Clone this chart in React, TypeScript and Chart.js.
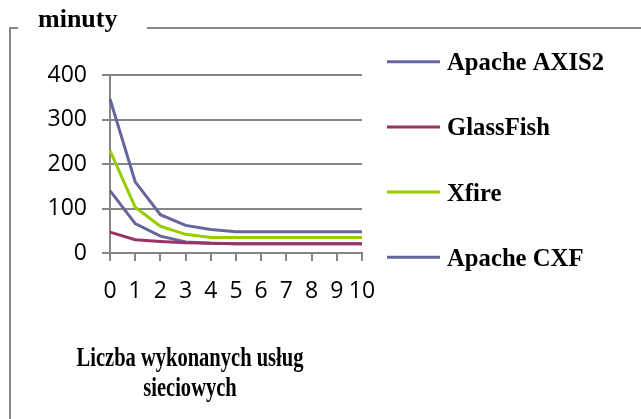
import React, { useEffect, useRef } from "react";
import { Chart, registerables } from "chart.js";
Chart.register(...registerables);

const categories = ["0", "1", "2", "3", "4", "5", "6", "7", "8", "9", "10"];
const axis2Values = [346, 160, 86, 62, 53, 48, 48, 48, 48, 48, 48];
const glassFishValues = [47, 30, 26, 23, 22, 21, 21, 21, 21, 21, 21];
const xfireValues = [230, 103, 60, 42, 35, 35, 35, 35, 35, 35, 35];
const cxfValues = [140, 66, 38, 25, 22, 21, 21, 21, 21, 21, 21];
const seriesNames = ["Apache AXIS2", "GlassFish", "Xfire", "Apache CXF"];
const seriesColors = ["#66669C", "#993366", "#99CC00", "#66669C"];
const yMin = 0;
const yMax = 400;
const yStep = 100;
const yTitle = "minuty";
const xTitleLines = ["Liczba wykonanych usług", "sieciowych"];

const W = 641;
const H = 419;

const decorPlugin = {
  id: "decor",
  afterDraw(chart: any) {
    const ctx = chart.ctx as CanvasRenderingContext2D;
    ctx.save();
    // frame
    ctx.strokeStyle = "#888888";
    ctx.lineWidth = 2;
    ctx.beginPath();
    ctx.moveTo(10, H);
    ctx.lineTo(10, 28);
    ctx.lineTo(18, 28);
    ctx.moveTo(147, 28);
    ctx.lineTo(W, 28);
    ctx.stroke();

    ctx.fillStyle = "#000";
    // y title
    ctx.font = "bold 26px 'Liberation Serif'";
    ctx.textAlign = "left";
    ctx.textBaseline = "alphabetic";
    ctx.fillText(yTitle, 38, 27);

    // x title
    ctx.font = "bold 27px 'Liberation Serif'";
    ctx.textAlign = "center";
    const baselines = [366, 396];
    const cx = 190;
    xTitleLines.forEach((line, i) => {
      ctx.save();
      ctx.translate(cx, baselines[i]);
      ctx.scale(0.76, 1);
      ctx.fillText(line, 0, 0);
      ctx.restore();
    });

    // legend
    ctx.textAlign = "left";
    ctx.font = "bold 26px 'Liberation Serif'";
    chart.data.datasets.forEach((ds: any, i: number) => {
      const y = 61.7 + i * 65.2;
      ctx.strokeStyle = ds.borderColor;
      ctx.lineWidth = 3;
      ctx.beginPath();
      ctx.moveTo(387, y);
      ctx.lineTo(440, y);
      ctx.stroke();
      ctx.save();
      ctx.translate(447, y + 8.5);
      ctx.scale(0.95, 1);
      ctx.fillText(ds.label, 0, 0);
      ctx.restore();
    });
    ctx.restore();
  },
};

export default function App() {
  const ref = useRef<HTMLCanvasElement | null>(null);
  useEffect(() => {
    if (!ref.current) return;
    const valuesList = [axis2Values, glassFishValues, xfireValues, cxfValues];
    const chart = new Chart(ref.current, {
      type: "line",
      data: {
        labels: categories,
        datasets: seriesNames.map((name, i) => ({
          label: name,
          data: valuesList[i],
          borderColor: seriesColors[i],
          backgroundColor: seriesColors[i],
          borderWidth: 3,
          pointRadius: 0,
          tension: 0,
          fill: false,
        })),
      },
      options: {
        animation: false,
        responsive: false,
        maintainAspectRatio: false,
        layout: { padding: { left: 0, right: W - 362, top: 75, bottom: 0 } },
        plugins: {
          legend: { display: false },
          tooltip: { enabled: false },
          title: { display: false },
        },
        scales: {
          x: {
            offset: false,
            grid: {
              display: true,
              drawOnChartArea: false,
              drawTicks: true,
              tickLength: 8,
              color: "#868686",
              lineWidth: 2,
            },
            border: { display: true, color: "#868686", width: 2 },
            ticks: {
              color: "#000",
              font: { family: "'Open Sans'", size: 23 },
              padding: 17,
              maxRotation: 0,
              autoSkip: false,
            },
            afterFit(scale: any) {
              scale.height = H - 253;
            },
          },
          y: {
            min: yMin,
            max: yMax,
            grid: {
              color: "#868686",
              lineWidth: 2,
              tickLength: 8,
              drawTicks: true,
            },
            border: { display: true, color: "#868686", width: 2 },
            ticks: {
              stepSize: yStep,
              color: "#000",
              font: { family: "'Open Sans'", size: 23 },
              padding: 15,
            },
            afterFit(scale: any) {
              scale.width = 110;
            },
          },
        },
      },
      plugins: [decorPlugin],
    });
    return () => chart.destroy();
  }, []);
  return (
    <div style={{ position: "absolute", left: 0, top: 0, width: W, height: H, background: "#fff" }}>
      <canvas ref={ref} width={W} height={H} style={{ width: W, height: H, display: "block" }} />
    </div>
  );
}
